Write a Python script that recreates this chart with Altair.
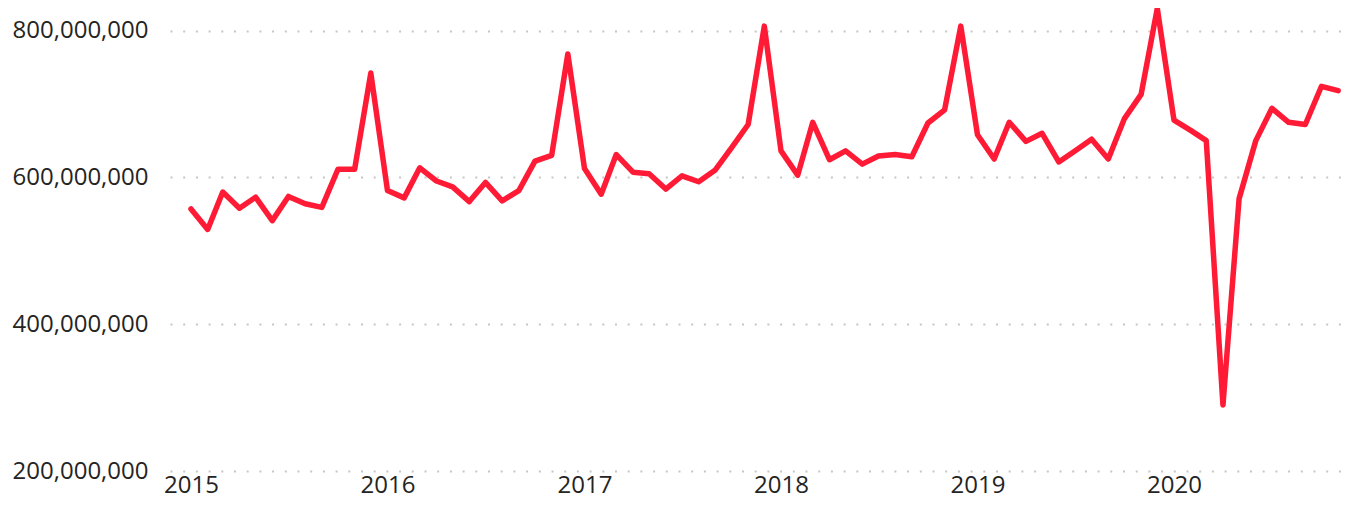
import altair as alt
import pandas as pd

# Monthly values, Jan 2015 .. Nov 2020 (millions)
years = [2015, 2016, 2017, 2018, 2019, 2020]
v2015 = [557, 529, 580, 558, 573, 541, 574, 564, 559, 611, 611, 742]
v2016 = [582, 572, 613, 595, 587, 567, 593, 568, 582, 622, 630, 768]
v2017 = [612, 577, 631, 607, 605, 584, 602, 594, 610, 640, 672, 806]
v2018 = [636, 603, 675, 624, 636, 618, 629, 631, 628, 674, 692, 806]
v2019 = [658, 625, 675, 649, 660, 621, 636, 652, 625, 680, 713, 830]
v2020 = [678, 664, 650, 290, 571, 650, 694, 675, 672, 724, 718]
y_ticks = [200000000, 400000000, 600000000, 800000000]

series = [v2015, v2016, v2017, v2018, v2019, v2020]
rows = []
for yr, vals in zip(years, series):
    for m, v in enumerate(vals):
        rows.append({"date": f"{yr}-{m + 1:02d}-01", "value": v * 1_000_000})
df = pd.DataFrame(rows)

FONT = "Open Sans"
TXT = "#252423"

x_axis = alt.Axis(
    values=[alt.DateTime(year=y, month=1, date=1, utc=True) for y in years],
    format="%Y",
    title=None,
    grid=False,
    domain=False,
    ticks=False,
    tickSize=0,
    labelFont=FONT,
    labelFontSize=24,
    labelColor=TXT,
    labelPadding=21,
    labelAlign="center",
    labelBaseline="alphabetic",
)

y_axis = alt.Axis(
    values=y_ticks,
    format=",d",
    title=None,
    domain=False,
    ticks=False,
    tickSize=0,
    grid=True,
    gridColor="#c8c6c4",
    gridDash=[2, 10.7],
    gridWidth=2,
    labelFont=FONT,
    labelFontSize=24,
    labelColor=TXT,
    labelPadding=22,
    labelBaseline="middle",
)

chart = (
    alt.Chart(df)
    .mark_line(color="#ff1a35", strokeWidth=5.5, strokeJoin="round", strokeCap="round")
    .encode(
        x=alt.X(
            "date:T",
            axis=x_axis,
            scale=alt.Scale(
                type="utc",
                domain=[
                    alt.DateTime(year=2014, month=11, date=23, utc=True),
                    alt.DateTime(year=2020, month=11, date=10, utc=True),
                ],
            ),
        ),
        y=alt.Y(
            "value:Q",
            axis=y_axis,
            scale=alt.Scale(domain=[200000000, 830650000], nice=False, zero=False),
        ),
    )
    .properties(
        width=1173,
        height=463,
        padding={"left": 162, "top": 0, "right": 0, "bottom": 29},
        autosize=alt.AutoSizeParams(type="none"),
    )
    .configure(background="white")
    .configure_view(stroke=None)
)

chart.save("out.html", embed_options={"renderer": "svg", "actions": False})
